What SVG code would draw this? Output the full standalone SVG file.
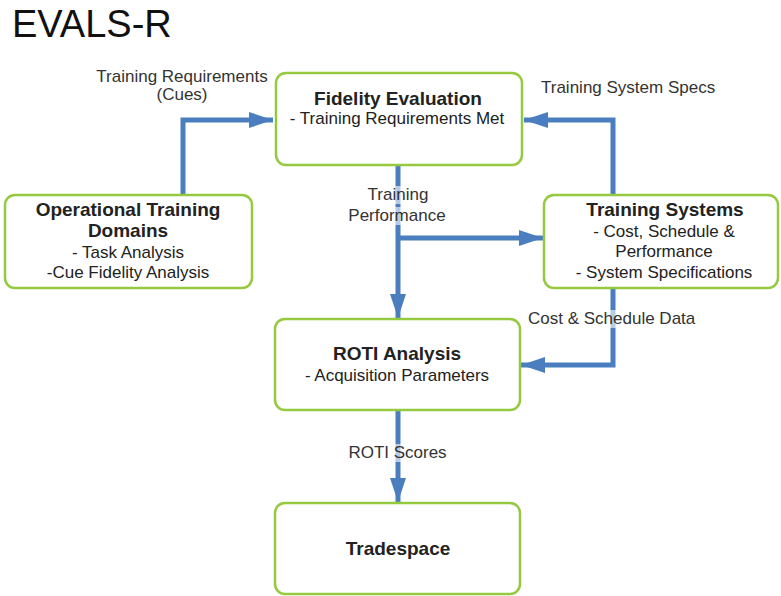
<svg xmlns="http://www.w3.org/2000/svg" width="781" height="596" viewBox="0 0 781 596">
<defs>
<marker id="ah" markerUnits="userSpaceOnUse" markerWidth="24" markerHeight="16" refX="24" refY="8" orient="auto" viewBox="0 0 24 16">
<path d="M0,0 L24,8 L0,16 Z" fill="#4A7EBF"/>
</marker>
<style>
.box{fill:#fff;stroke:#94C940;stroke-width:2.5}
.t{font-family:"Liberation Sans",Arial,sans-serif;fill:#222;text-anchor:middle}
.b{font-size:19px;font-weight:bold}
.r{font-size:17px}
.lbl{font-family:"Liberation Sans",Arial,sans-serif;font-size:17px;fill:#333}
.c{fill:none;stroke:#4A7EBF;stroke-width:5}
.bg{fill:#fff;opacity:0.6}
</style>
</defs>
<rect width="781" height="596" fill="#fff"/>
<text x="12" y="37" font-family="'Liberation Sans',Arial,sans-serif" font-size="38" fill="#111">EVALS-R</text>

<g id="connectors">
<path class="c" d="M183,195 V120 H273" marker-end="url(#ah)"/>
<path class="c" d="M613,195 V120 H524" marker-end="url(#ah)"/>
<path class="c" d="M398,166 V318" marker-end="url(#ah)"/>
<path class="c" d="M398,238 H543" marker-end="url(#ah)"/>
<path class="c" d="M613,288 V365 H521" marker-end="url(#ah)"/>
<path class="c" d="M398,410 V502" marker-end="url(#ah)"/>
</g>

<g id="labels">
<text class="lbl" x="182" y="82" text-anchor="middle">Training Requirements</text>
<text class="lbl" x="182" y="100" text-anchor="middle">(Cues)</text>
<text class="lbl" x="541" y="93">Training System Specs</text>
<rect class="bg" x="360" y="186" width="76" height="18"/>
<rect class="bg" x="346" y="207" width="102" height="18"/>
<text class="lbl" x="398" y="200" text-anchor="middle">Training</text>
<text class="lbl" x="397" y="221" text-anchor="middle">Performance</text>
<rect class="bg" x="600" y="310" width="26" height="18"/>
<text class="lbl" x="528" y="324">Cost &amp; Schedule Data</text>
<rect class="bg" x="388" y="444" width="20" height="18"/>
<text class="lbl" x="397.5" y="458" text-anchor="middle">ROTI Scores</text>
</g>

<g id="fidelity">
<rect class="box" x="276" y="73" width="246" height="92" rx="10"/>
<text class="t b" x="398" y="105">Fidelity Evaluation</text>
<text class="t r" x="397" y="124">- Training Requirements Met</text>
</g>

<g id="operational">
<rect class="box" x="5" y="195" width="247" height="93" rx="10"/>
<text class="t b" x="128" y="216">Operational Training</text>
<text class="t b" x="128" y="237">Domains</text>
<text class="t r" x="128" y="258">- Task Analysis</text>
<text class="t r" x="128" y="278">-Cue Fidelity Analysis</text>
</g>

<g id="training-systems">
<rect class="box" x="544" y="195" width="234" height="93" rx="10"/>
<text class="t b" x="665" y="216">Training Systems</text>
<text class="t r" x="664" y="237">- Cost, Schedule &amp;</text>
<text class="t r" x="664" y="257">Performance</text>
<text class="t r" x="664" y="278">- System Specifications</text>
</g>

<g id="roti">
<rect class="box" x="275" y="319" width="245" height="91" rx="10"/>
<text class="t b" x="397" y="360">ROTI Analysis</text>
<text class="t r" x="397" y="381">- Acquisition Parameters</text>
</g>

<g id="tradespace">
<rect class="box" x="275" y="503" width="245" height="91" rx="10"/>
<text class="t b" x="398" y="555">Tradespace</text>
</g>
</svg>
